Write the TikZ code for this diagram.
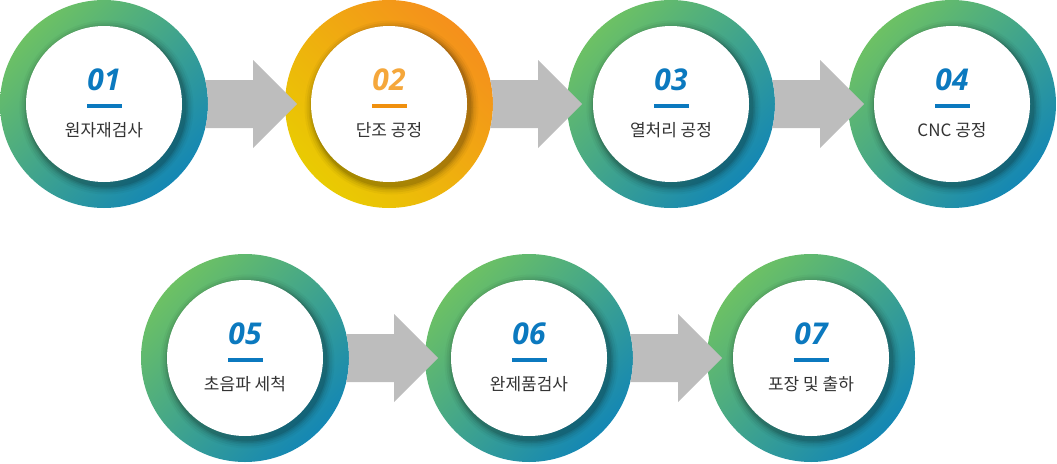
\documentclass[tikz,border=0pt]{standalone}
\usepackage{fontspec}
\setmainfont{Noto Sans CJK KR}
\newfontfamily\numfont{Open Sans}
\usetikzlibrary{calc}
\definecolor{gtop}{HTML}{6DC164}
\definecolor{gbot}{HTML}{1487B4}
\definecolor{otop}{HTML}{F5901C}
\definecolor{obot}{HTML}{E9CB02}
\definecolor{numblue}{HTML}{0B79BF}
\definecolor{numorange}{HTML}{F5A73B}
\definecolor{barorange}{HTML}{F0900E}
\definecolor{arrowgray}{HTML}{BDBDBD}
\definecolor{labelgray}{HTML}{333333}
\tikzset{
  greenring/.style={circle, minimum size=208pt, inner sep=0pt, top color=gtop, bottom color=gbot, shading angle=45},
  orangering/.style={circle, minimum size=208pt, inner sep=0pt, top color=otop, bottom color=obot, shading angle=-45},
  whitedisc/.style={circle, minimum size=156pt, inner sep=0pt, fill=white},
  numtext/.style={anchor=base, font=\numfont\bfseries\itshape\fontsize{30}{30}\selectfont},
  labeltext/.style={anchor=base, text=labelgray, font=\fontsize{17}{18}\selectfont},
  flowarrow/.style={fill=arrowgray}
}
\newcommand\procstep[7]{%
  \node[#4] (#1) at (#2,#3) {};
  \foreach \rr/\op in {87/0.03,85/0.05,83/0.06,81.5/0.08,80/0.10}{
    \fill[black, opacity=\op] ($(#1.center)+(2.5,3.5)$) circle (\rr);
  }
  \node[whitedisc] (#1w) at (#1.center) {};
  \node[numtext, text=#5] (#1n) at ($(#1.center)+(0,-14)$) {#7};
  \fill[#6] ($(#1.center)+(-17.5,0)$) rectangle ($(#1.center)+(17.5,4)$);
  \node[labeltext] (#1l) at ($(#1.center)+(0,32.5)$) {\steplabel};
}
\newcommand\flowarrow[1]{%
  \fill[flowarrow] ($(#1.center)+(101.2,-24)$) -- ($(#1.center)+(149,-24)$) -- ($(#1.center)+(149,-44)$)
    -- ($(#1.center)+(193,0)$) -- ($(#1.center)+(149,44)$) -- ($(#1.center)+(149,24)$)
    -- ($(#1.center)+(101.2,24)$) arc[start angle=13.34, end angle=-13.34, radius=104] -- cycle;
}
\begin{document}
\begin{tikzpicture}[x=1pt,y=-1pt]
\useasboundingbox (0,0) rectangle (1057,463);
\def\steplabel{원자재검사}\procstep{s1}{104}{104}{greenring}{numblue}{numblue}{01}
\def\steplabel{단조 공정}\procstep{s2}{389}{104}{orangering}{numorange}{barorange}{02}
\def\steplabel{열처리 공정}\procstep{s3}{671}{104}{greenring}{numblue}{numblue}{03}
\def\steplabel{CNC 공정}\procstep{s4}{952}{104}{greenring}{numblue}{numblue}{04}
\def\steplabel{초음파 세척}\procstep{s5}{245}{358}{greenring}{numblue}{numblue}{05}
\def\steplabel{완제품검사}\procstep{s6}{529}{358}{greenring}{numblue}{numblue}{06}
\def\steplabel{포장 및 출하}\procstep{s7}{811}{358}{greenring}{numblue}{numblue}{07}
\flowarrow{s1}
\flowarrow{s2}
\flowarrow{s3}
\flowarrow{s5}
\flowarrow{s6}
\end{tikzpicture}
\end{document}
